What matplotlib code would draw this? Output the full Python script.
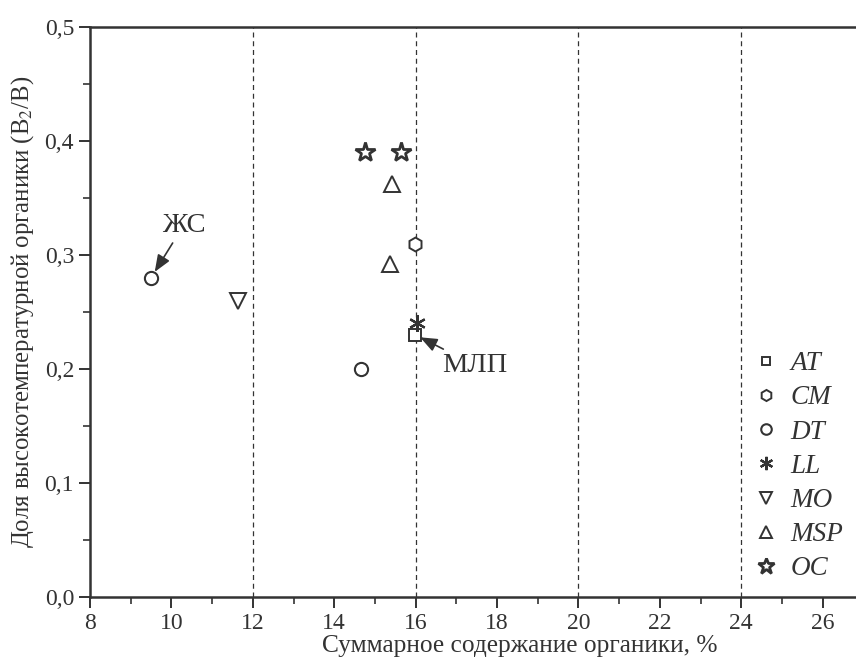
import matplotlib
matplotlib.use("Agg")
import matplotlib.pyplot as plt
from matplotlib.ticker import MultipleLocator, FixedLocator, FuncFormatter

plt.rcParams['font.family'] = ['Liberation Serif', 'DejaVu Serif']
plt.rcParams['mathtext.fontset'] = 'stix'

# Data
groups = ['AT', 'CM', 'DT', 'LL', 'MO', 'MSP', 'OC']
x_AT = [15.99]; y_AT = [0.23]
x_CM = [15.99]; y_CM = [0.31]
x_DT = [9.5, 14.67]; y_DT = [0.28, 0.20]
x_LL = [16.04]; y_LL = [0.24]
x_MO = [11.64]; y_MO = [0.26]
x_MSP = [15.41, 15.37]; y_MSP = [0.362, 0.292]
x_OC = [14.76, 15.63]; y_OC = [0.39, 0.39]
vlines_x = [12, 16, 20, 24]
xticks_major = [8, 10, 12, 14, 16, 18, 20, 22, 24, 26]

fig = plt.figure(figsize=(8.56, 6.57), dpi=100)
ax = fig.add_axes([90/856, 60/657, 814/856, 570/657])

ax.set_xlim(8, 28)
ax.set_ylim(0, 0.5)

for xv in vlines_x:
    ax.axvline(xv, color='#333333', lw=0.9, ls=(0, (4, 3)), zorder=1)

c = '#333333'
kw = dict(ls='none', mfc='white', mec=c, zorder=3)
ax.plot(x_AT, y_AT, marker='s', ms=8, mew=1.4, label='AT', **kw)
ax.plot(x_CM, y_CM, marker='h', ms=10, mew=1.4, label='CM', **kw)
ax.plot(x_DT, y_DT, marker='o', ms=9.5, mew=1.5, label='DT', **kw)
ax.plot(x_LL, y_LL, marker=(6, 2, 0), ms=12, mew=1.6, ls='none', color=c, label='LL', zorder=4)
ax.plot(x_MO, y_MO, marker='v', ms=11, mew=1.4, label='MO', **kw)
ax.plot(x_MSP, y_MSP, marker='^', ms=11, mew=1.4, label='MSP', **kw)
ax.plot(x_OC, y_OC, marker='*', ms=15, mew=2.0, label='OC', **kw)

leg = ax.legend(loc='upper left', bbox_to_anchor=(0.786, 0.474), frameon=False,
                prop={'family': 'Liberation Serif', 'style': 'italic', 'size': 19.5},
                handletextpad=0.45, labelspacing=0.34, handlelength=0.9,
                borderpad=0.4, markerscale=0.8)
for t in leg.get_texts():
    t.set_color('#333333')

ax.annotate('ЖС', xy=(9.5, 0.28), xytext=(10.3, 0.326), fontsize=20.5, color='#333333',
            ha='center', va='center',
            arrowprops=dict(arrowstyle='-|>,head_length=0.5,head_width=0.2', color='#333333',
                            lw=1.2, shrinkA=2, shrinkB=5))
ax.annotate('МЛП', xy=(15.99, 0.23), xytext=(17.45, 0.2035), fontsize=20.5, color='#333333',
            ha='center', va='center',
            arrowprops=dict(arrowstyle='-|>,head_length=0.5,head_width=0.2', color='#333333',
                            lw=1.2, shrinkA=1, shrinkB=4))

ax.xaxis.set_major_locator(FixedLocator(xticks_major))
ax.xaxis.set_minor_locator(MultipleLocator(1))
ax.yaxis.set_major_locator(MultipleLocator(0.1))
ax.yaxis.set_minor_locator(MultipleLocator(0.05))
ax.yaxis.set_major_formatter(FuncFormatter(lambda v, p: f'{v:.1f}'.replace('.', ',')))
ax.xaxis.set_major_formatter(FuncFormatter(lambda v, p: f'{v:.0f}'))

ax.tick_params(which='both', direction='out', colors='#333333', top=False, right=False,
               labelsize=17, labelcolor='#333333')
ax.tick_params(which='major', length=8, width=1.4)
ax.tick_params(which='minor', length=5, width=1.2)

for s in ['left', 'bottom', 'top']:
    ax.spines[s].set_linewidth(1.8)
    ax.spines[s].set_color('#333333')
ax.spines['right'].set_visible(False)

ax.set_xlabel('Суммарное содержание органики, %', fontsize=18.3, color='#333333', labelpad=1)
ax.xaxis.label.set_x(0.528)
ax.set_ylabel('Доля высокотемпературной органики (В$_2$/В)', fontsize=17.8, color='#333333', labelpad=6)

fig.savefig('out.png', dpi=100)
